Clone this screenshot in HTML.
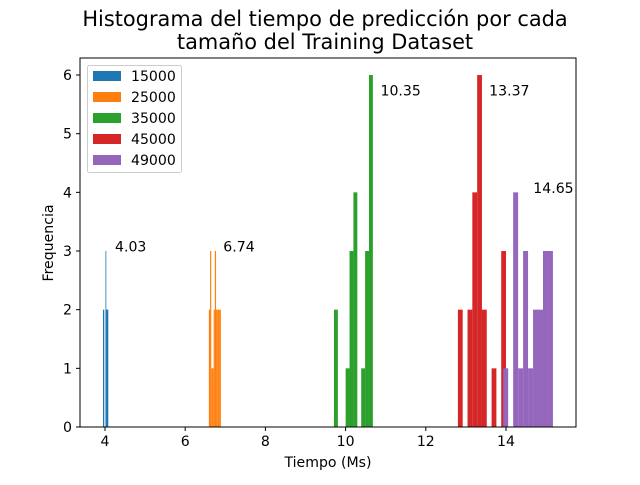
<!DOCTYPE html>
<html><head><meta charset="utf-8"><style>
body{margin:0;background:#fff}
svg text{font-family:"DejaVu Sans","Liberation Sans",sans-serif;fill:#000}
</style></head><body>
<svg id="chart" width="640" height="480" xmlns="http://www.w3.org/2000/svg">
<rect width="640" height="480" fill="#fff"/>
<text x="325" y="26" font-size="20.9" text-anchor="middle">Histograma del tiempo de predicción por cada</text>
<text x="325" y="49" font-size="20.9" text-anchor="middle">tamaño del Training Dataset</text>
<g id="bars"></g>
<g id="ann"></g>
<rect x="80" y="58" width="496" height="369" fill="none" stroke="#000" stroke-width="1"/>
<g id="xt"></g>
<g id="yt"></g>
<text x="328" y="467" font-size="14.1" text-anchor="middle">Tiempo (Ms)</text>
<text transform="translate(53,243) rotate(-90)" font-size="14.1" text-anchor="middle">Frequencia</text>
<g id="legend">
<rect x="87.5" y="65.5" width="94" height="107" rx="2" fill="#fff" fill-opacity="0.8" stroke="#ccc"/>
</g>
</svg>
<script>
const seriesNames = ["15000","25000","35000","45000","49000"];
const colors = ["#1f77b4","#ff7f0e","#2ca02c","#d62728","#9467bd"];
const binStart = [3.95, 6.59, 9.71, 12.80, 13.93];
const binEnd = [4.075, 6.89, 10.68, 14.00, 15.17];
const counts15000 = [2,2,0,0,0,3,2,2,2,2];
const counts25000 = [2,3,1,1,2,3,2,2,2,2];
const counts35000 = [2,0,0,1,3,4,0,1,3,6];
const counts45000 = [2,0,2,4,6,2,0,1,0,3];
const counts49000 = [1,0,4,1,3,1,2,2,3,3];
const allCounts = [counts15000,counts25000,counts35000,counts45000,counts49000];
const annLabels = ["4.03","6.74","10.35","13.37","14.65"];
const annX = [4.25, 6.95, 10.87, 13.58, 14.68];
const annY = [3.08, 3.08, 5.74, 5.74, 4.07];
const xTicks = [4,6,8,10,12,14];
const yTicks = [0,1,2,3,4,5,6];

const NS="http://www.w3.org/2000/svg";
const X0=80,X1=576,Y0=427,Y1=58, xmin=3.377, xmax=15.745, ymin=0, ymax=6.29;
const sx=v=>X0+(v-xmin)/(xmax-xmin)*(X1-X0);
const sy=v=>Y0-(v-ymin)/(ymax-ymin)*(Y0-Y1);
function mk(t,a,p){const e=document.createElementNS(NS,t);for(const k in a)e.setAttribute(k,a[k]);p.appendChild(e);return e;}
const bars=document.getElementById('bars');
allCounts.forEach((c,s)=>{
  const w=(binEnd[s]-binStart[s])/c.length;
  c.forEach((n,i)=>{
    if(!n)return;
    const x0=sx(binStart[s]+i*w), x1=sx(binStart[s]+(i+1)*w);
    const r=mk('rect',{x:x0,y:sy(n),width:Math.max(x1-x0,0.8),height:sy(0)-sy(n),fill:colors[s]},bars);
    
    
  });
});
const ann=document.getElementById('ann');
annLabels.forEach((l,i)=>{
  const t=mk('text',{x:sx(annX[i]),y:sy(annY[i])+5,'font-size':14.1},ann);
  t.textContent=l;
  
  
});
const xt=document.getElementById('xt');
xTicks.forEach(v=>{
  mk('line',{x1:sx(v),x2:sx(v),y1:Y0,y2:Y0+4,stroke:'#000'},xt);
  const t=mk('text',{x:sx(v),y:Y0+19,'font-size':14.1,'text-anchor':'middle'},xt);
  t.textContent=v;
  
  
});
const yt=document.getElementById('yt');
yTicks.forEach(v=>{
  mk('line',{x1:X0-4,x2:X0,y1:sy(v),y2:sy(v),stroke:'#000'},yt);
  const t=mk('text',{x:X0-8,y:sy(v)+5,'font-size':14.1,'text-anchor':'end'},yt);
  t.textContent=v;
  
  
});
const lg=document.getElementById('legend');
seriesNames.forEach((n,i)=>{
  const y=76+i*21;
  const r=mk('rect',{x:93,y:y-5,width:28,height:10,fill:colors[i]},lg);
  
  
  const t=mk('text',{x:131,y:y+5,'font-size':14.1},lg);
  t.textContent=n;
  
  
});
</script>
</body></html>
